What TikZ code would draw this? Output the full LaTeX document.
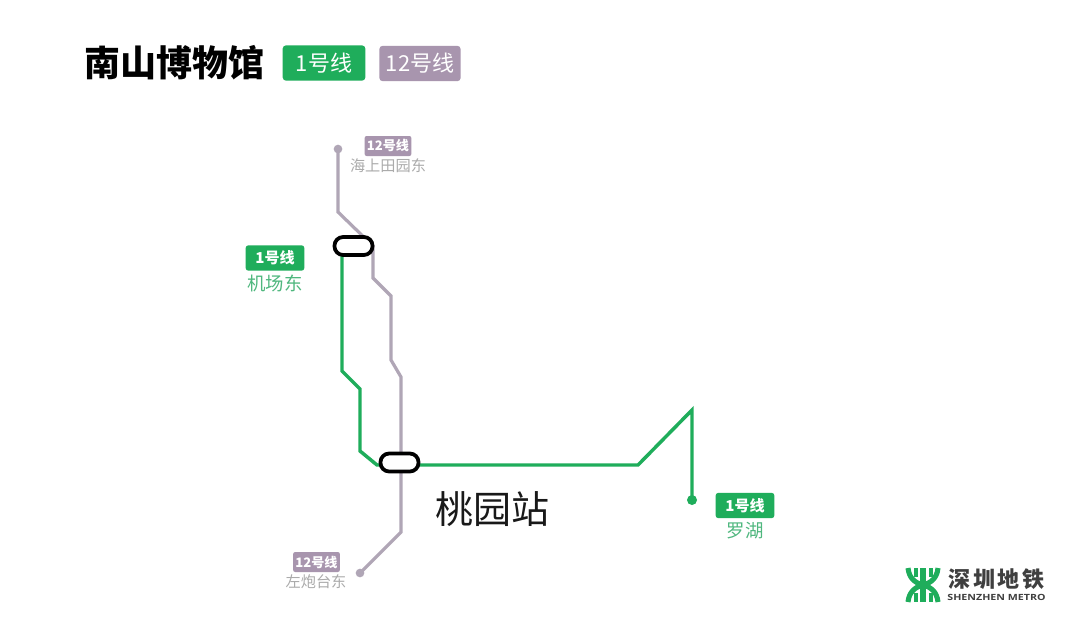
\documentclass[tikz,border=0pt]{standalone}
\usepackage{fontspec}
\setmainfont{Noto Sans CJK SC}
\newfontfamily\semicjk{Noto Sans CJK SC}
\newfontfamily\latinb{Open Sans}
\definecolor{lgreen}{HTML}{1FAD5B}
\definecolor{lgrey}{HTML}{A895AE}
\definecolor{lineg}{HTML}{B0A6B6}
\definecolor{sgrey}{HTML}{ABABAB}
\definecolor{sgreen}{HTML}{4FB77E}
\definecolor{lgtext}{HTML}{3F3F3F}
\tikzset{
  gline/.style={draw=lgreen,line width=2.6pt,line join=miter},
  pline/.style={draw=lineg,line width=2.4pt,line join=miter},
  station/.style={draw=black,line width=2.8pt,fill=white,rounded corners=6.5pt,minimum width=28.5pt,minimum height=13.5pt,inner sep=0pt},
  gdot/.style={circle,fill=lgreen,minimum size=7.5pt,inner sep=0pt},
  pdot/.style={circle,fill=lineg,minimum size=6.5pt,inner sep=0pt},
  bigbadge/.style={fill=#1,text=white,rounded corners=2.5pt,minimum height=26.5pt,inner sep=0pt,font=\semicjk\fontsize{16.5}{16.5}\selectfont},
  smallgreen/.style={fill=lgreen,text=white,rounded corners=2pt,minimum width=44pt,minimum height=19pt,inner sep=0pt,font=\fontsize{11.3}{11.3}\bfseries\selectfont},
  smallgrey/.style={fill=lgrey,text=white,rounded corners=1.5pt,minimum width=35pt,minimum height=15pt,inner sep=0pt,font=\fontsize{9.8}{9.8}\bfseries\selectfont},
  gname/.style={text=sgreen,inner sep=0pt,font=\fontsize{13.8}{13.8}\selectfont},
  pname/.style={text=sgrey,inner sep=0pt,font=\fontsize{11.4}{11.4}\selectfont},
  logostroke/.style={draw=lgreen,line width=3.8pt},
}
\begin{document}
\begin{tikzpicture}[x=0.75pt,y=-0.75pt]
\useasboundingbox (0,0) rectangle (1080,619);
\fill[white] (0,0) rectangle (1080,619);
% coordinates
\coordinate (pA) at (338,149);
\coordinate (pB) at (338,212);
\coordinate (pC) at (373,246);
\coordinate (pD) at (373,278);
\coordinate (pE) at (391,296);
\coordinate (pF) at (391,360);
\coordinate (pG) at (401,377);
\coordinate (pH) at (401,532);
\coordinate (pI) at (360,573);
\coordinate (gA) at (342,246);
\coordinate (gB) at (342,371);
\coordinate (gC) at (360,389);
\coordinate (gD) at (360,451);
\coordinate (gE) at (377,465);
\coordinate (gF) at (638,465);
\coordinate (gG) at (692,410);
\coordinate (gH) at (692,500);
% lines
\draw[pline] (pA) -- (pB) -- (pC) -- (pD) -- (pE) -- (pF) -- (pG) -- (pH) -- (pI);
\draw[gline] (gA) -- (gB) -- (gC) -- (gD) -- (gE) -- (gF) -- (gG) -- (gH);
\node[pdot] (dotN) at (pA) {};
\node[pdot] (dotS) at (pI) {};
\node[gdot] (dotE) at (gH) {};
\node[station] (st1) at (353.5,246) {};
\node[station] (st2) at (399.5,462.5) {};
% title
\node[inner sep=0pt,anchor=center,font=\fontsize{27}{27}\bfseries\selectfont] (title) at (174.5,63) {南山博物馆};
\node[bigbadge=lgreen,minimum width=62pt] (b1) at (324,63) {1号线};
\node[bigbadge=lgrey,minimum width=61pt] (b2) at (420,63.5) {12号线};
% labels
\node[smallgrey] (n12) at (388,146) {12号线};
\node[pname] (nn) at (388,165.5) {海上田园东};
\node[smallgreen] (w1) at (275,258) {1号线};
\node[gname] (wn) at (275,283) {机场东};
\node[smallgrey] (s12) at (316.5,562) {12号线};
\node[pname] (sn) at (316,581.5) {左炮台东};
\node[smallgreen] (e1) at (745,505.5) {1号线};
\node[gname] (en) at (745,530.5) {罗湖};
\node[inner sep=0pt,text=black!90,font=\semicjk\fontsize{28.5}{28.5}\selectfont] (tao) at (492,509) {桃园站};
% logo
\draw[logostroke] (923,568) -- (923,602);
\draw[logostroke] (908,568) .. controls (909,578) and (915,583) .. (923,585) .. controls (931,583) and (937,578) .. (938,568);
\draw[logostroke] (908,602) .. controls (909,592) and (915,587) .. (923,585) .. controls (931,587) and (937,592) .. (938,602);
\draw[logostroke,line width=3pt] (915.5,568) -- (915.5,577);
\draw[logostroke,line width=3pt] (930.5,568) -- (930.5,577);
\draw[logostroke,line width=3pt] (915.5,593) -- (915.5,602);
\draw[logostroke,line width=3pt] (930.5,593) -- (930.5,602);
\node[inner sep=0pt,text=lgtext,font=\fontsize{16.5}{16.5}\bfseries\selectfont] (lt) at (996.5,579) {深\hspace{2.2pt}圳\hspace{2.2pt}地\hspace{2.2pt}铁};
\node[inner sep=0pt,text=lgtext,font=\latinb\fontsize{6.4}{6.4}\bfseries\selectfont] (le) at (996.5,597.5) {\scalebox{1.25}[1]{SHENZHEN METRO}};
\end{tikzpicture}
\end{document}
